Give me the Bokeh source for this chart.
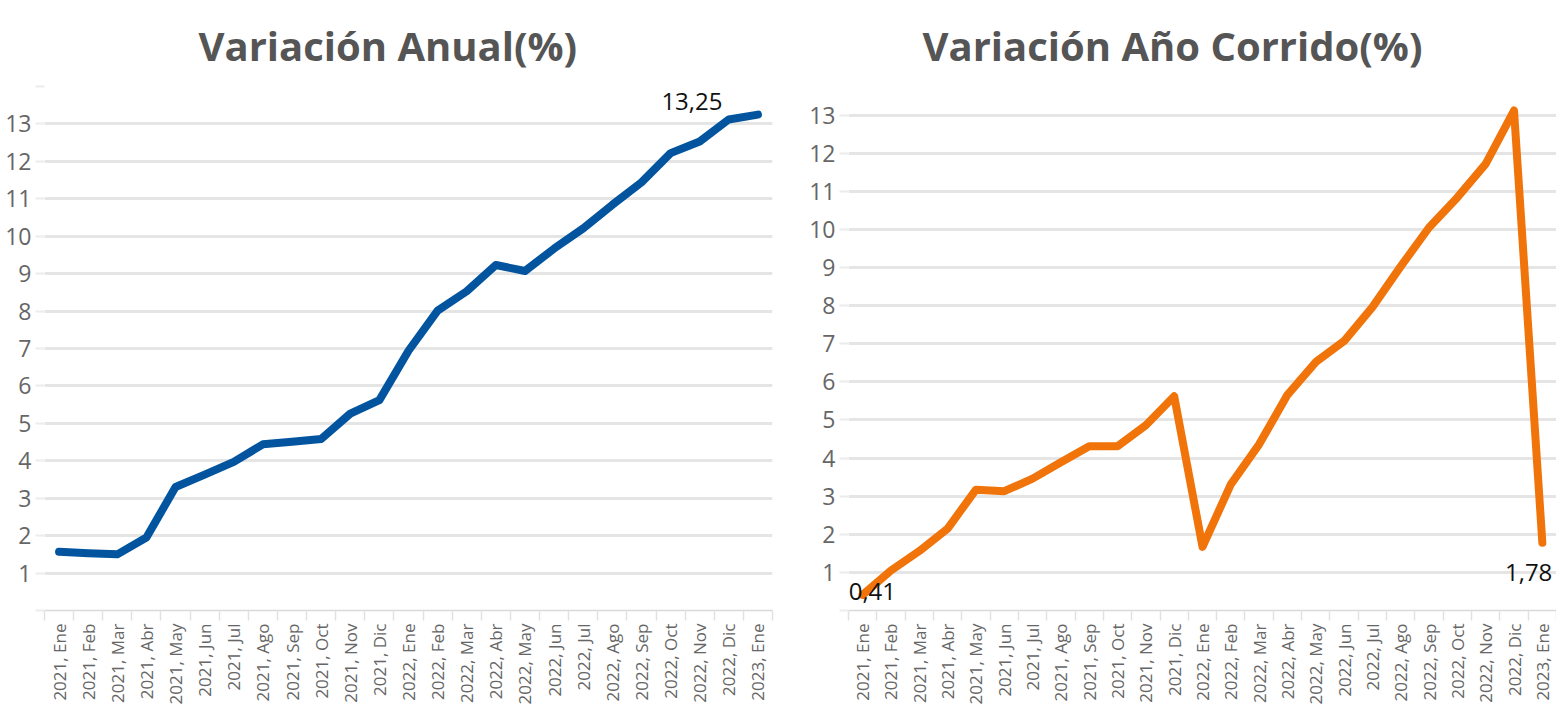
import math
from bokeh.plotting import figure
from bokeh.layouts import row
from bokeh.models import FixedTicker, Range1d, ColumnDataSource
from bokeh.core.properties import value
from bokeh.embed import file_html
from bokeh.resources import INLINE

categorias = [
    "2021, Ene", "2021, Feb", "2021, Mar", "2021, Abr", "2021, May", "2021, Jun",
    "2021, Jul", "2021, Ago", "2021, Sep", "2021, Oct", "2021, Nov", "2021, Dic",
    "2022, Ene", "2022, Feb", "2022, Mar", "2022, Abr", "2022, May", "2022, Jun",
    "2022, Jul", "2022, Ago", "2022, Sep", "2022, Oct", "2022, Nov", "2022, Dic",
    "2023, Ene",
]
variacion_anual = [1.57, 1.53, 1.50, 1.95, 3.30, 3.63, 3.97, 4.44, 4.51, 4.58, 5.26, 5.62,
                   6.94, 8.01, 8.53, 9.23, 9.07, 9.67, 10.21, 10.84, 11.44, 12.22, 12.53, 13.12,
                   13.25]
variacion_corrido = [0.41, 1.05, 1.56, 2.15, 3.17, 3.13, 3.46, 3.89, 4.31, 4.31, 4.86, 5.62,
                     1.67, 3.31, 4.36, 5.66, 6.52, 7.07, 7.96, 9.03, 10.05, 10.84, 11.72, 13.12,
                     1.78]
titulo_anual = "Variación Anual(%)"
titulo_corrido = "Variación Año Corrido(%)"

FONT = "Open Sans"


def fmt(v):
    return f"{v:.2f}".replace(".", ",")


def make_chart(title, vals, color, y_end, y_labels, y_minor, grid_ticks, width,
               border_left, border_right, title_offset):
    n = len(categorias)
    p = figure(width=width, height=707,
               x_range=Range1d(-0.5, n - 0.5), y_range=Range1d(0, y_end),
               output_backend="svg", toolbar_location=None,
               min_border_left=border_left, min_border_right=border_right,
               min_border_top=86, min_border_bottom=90)
    p.outline_line_color = None
    p.background_fill_color = "white"
    p.border_fill_color = "white"

    p.title.text = title
    p.title.align = "left"
    p.title.text_font = FONT
    p.title.text_font_size = "40px"
    p.title.text_font_style = "bold"
    p.title.text_color = "#555555"
    p.title.standoff = 27
    p.title.offset = title_offset

    xa = p.xaxis[0]
    xa.ticker = FixedTicker(ticks=list(range(n)),
                            minor_ticks=[i - 0.5 for i in range(n + 1)])
    xa.major_label_overrides = {i: c for i, c in enumerate(categorias)}
    xa.major_label_orientation = math.pi / 2
    xa.major_tick_line_color = None
    xa.major_tick_out = 10
    xa.major_tick_in = 0
    xa.minor_tick_line_color = "#e2e2e2"
    xa.minor_tick_line_width = 1.5
    xa.minor_tick_out = 10
    xa.minor_tick_in = 0
    xa.axis_line_color = "#d9d9d9"
    xa.axis_line_width = 1.5
    xa.major_label_text_font = FONT
    xa.major_label_text_font_size = "17px"
    xa.major_label_text_color = "#666666"
    xa.major_label_standoff = 3

    ya = p.yaxis[0]
    ya.ticker = FixedTicker(ticks=y_labels, minor_ticks=y_minor)
    ya.axis_line_color = None
    ya.major_tick_line_color = "#ececec"
    ya.major_tick_line_width = 2
    ya.major_tick_out = 9
    ya.major_tick_in = 0
    ya.minor_tick_line_color = "#ececec"
    ya.minor_tick_line_width = 2
    ya.minor_tick_out = 9
    ya.minor_tick_in = 0
    ya.major_label_text_font = FONT
    ya.major_label_text_font_size = "23px"
    ya.major_label_text_color = "#666666"
    ya.major_label_standoff = 4

    p.xgrid.visible = False
    p.ygrid.ticker = FixedTicker(ticks=grid_ticks)
    p.ygrid.grid_line_color = "#e5e5e5"
    p.ygrid.grid_line_width = 3

    src = ColumnDataSource(dict(x=list(range(n)), y=vals))
    p.line(x="x", y="y", source=src, line_color=color, line_width=8,
           line_join="round", line_cap="round")
    return p


n = len(categorias)
last = n - 1

p1 = make_chart(titulo_anual, variacion_anual, "#02549F", 14,
                list(range(1, 14)), [0, 14], list(range(1, 15)),
                780, 44, 8, 154)
p1.text(x=[last], y=[variacion_anual[last]], text=[fmt(variacion_anual[last])],
        text_font=value(FONT), text_font_size="24px", text_color="#111111",
        text_align="center", text_baseline="alphabetic", x_offset=-66, y_offset=-13)

p2 = make_chart(titulo_corrido, variacion_corrido, "#F0740A", 13.75,
                list(range(1, 14)), [0], list(range(1, 14)),
                776, 68, 0, 74)
p2.text(x=[0], y=[variacion_corrido[0]], text=[fmt(variacion_corrido[0])],
        text_font=value(FONT), text_font_size="24px", text_color="#111111",
        text_align="left", text_baseline="alphabetic", x_offset=-14, y_offset=-3.5)
p2.text(x=[last], y=[variacion_corrido[last]], text=[fmt(variacion_corrido[last])],
        text_font=value(FONT), text_font_size="24px", text_color="#111111",
        text_align="right", text_baseline="alphabetic", x_offset=10, y_offset=30)

layout = row(p1, p2)
open("out.html", "w").write(file_html(layout, INLINE))
